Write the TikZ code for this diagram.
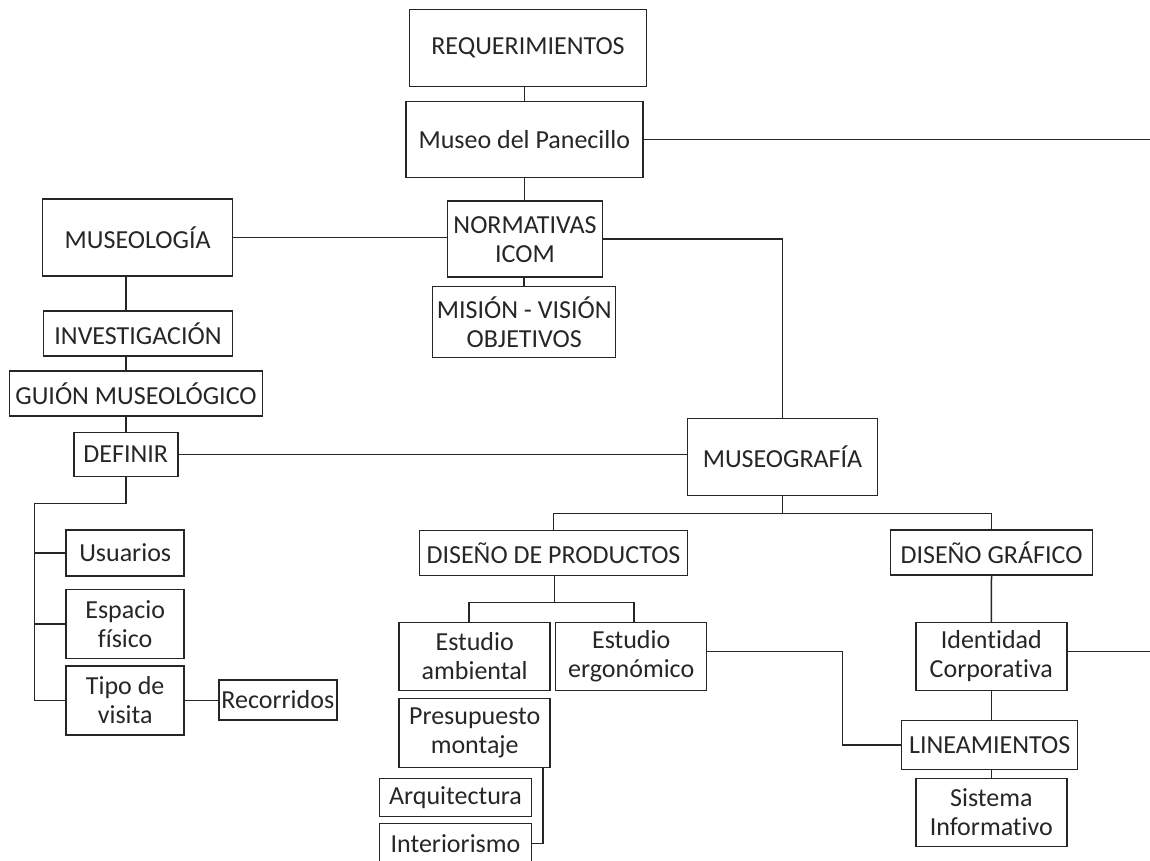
\documentclass[tikz,border=0pt]{standalone}
\usepackage{fontspec}
\setmainfont{Carlito}[Ligatures=NoCommon]
\usetikzlibrary{positioning}

\begin{document}
\begin{tikzpicture}[
            x=1pt, y=-1pt,
            line width=1.5pt, color=black!85,
            every node/.style={draw, inner sep=0pt, align=center,
                font=\fontsize{26}{29}\selectfont},
            box/.style={minimum width=#1},
            ]
            \useasboundingbox (0,0) rectangle (1150,860);
            \clip (0,0) rectangle (1150,860);

            % centre column
            \node[box=237, minimum height=77] (req) at (528,48) {REQUERIMIENTOS};
            \node[box=237, minimum height=76] (museo) at (524.3,139.7) {Museo del Panecillo};
            \node[box=155, minimum height=76] (norm) at (525,239.2) {NORMATIVAS\\ICOM};
            \node[box=183, minimum height=71] (mision) at (524.2,322) {MISIÓN - VISIÓN\\OBJETIVOS};

            % museologia
            \node[box=190, minimum height=77] (museologia) at (137.7,237.5) {MUSEOLOGÍA};
            \node[box=189, minimum height=45] (investig) at (138,333.3) {INVESTIGACIÓN};
            \node[box=253, minimum height=45] (guion) at (136,393.3) {GUIÓN MUSEOLÓGICO};
            \node[box=104, minimum height=44] (definir) at (125.8,454.5) {DEFINIR};
            \node[box=118, minimum height=46] (usuarios) at (125.2,552.8) {Usuarios};
            \node[box=118, minimum height=69] (espacio) at (125.2,623.8) {Espacio\\físico};
            \node[box=118, minimum height=69] (tipo) at (125.2,700.3) {Tipo de\\visita};
            \node[box=118, minimum height=40] (recorridos) at (277.8,700) {Recorridos};

            % museografia
            \node[box=190, minimum height=77] (museografia) at (782.5,457) {MUSEOGRAFÍA};
            \node[box=268, minimum height=45] (dp) at (553.5,552.8) {DISEÑO DE PRODUCTOS};
            \node[box=202, minimum height=45] (dg) at (991.5,552.5) {DISEÑO GRÁFICO};
            \node[box=151, minimum height=68] (ambiental) at (474.7,656.5) {Estudio\\ambiental};
            \node[box=151, minimum height=68] (ergo) at (631.2,656.5) {Estudio\\ergonómico};
            \node[box=151, minimum height=69] (presup) at (474.7,732.8) {Presupuesto\\montaje};
            \node[box=152, minimum height=38] (arq) at (455.5,797.5) {Arquitectura};
            \node[box=152, minimum height=40] (inter) at (455.5,843.3) {Interiorismo};
            \node[box=151, minimum height=68] (ident) at (991.3,656.5) {Identidad\\Corporativa};
            \node[box=176, minimum height=49] (linea) at (989.7,745) {LINEAMIENTOS};
            \node[box=151, minimum height=68] (sistema) at (991.3,812.5) {Sistema\\Informativo};

            \coordinate (museoEnd) at (1150,139.7);
            \coordinate (identEnd) at (1150,651.5);
            \coordinate (busL) at (34.3,503.3);
            \coordinate (busM) at (782.5,513.3);
            \coordinate (busP) at (554.3,602.7);

            \draw (req.south -| museo) -- (museo.north);
            \draw (museo.south) -- (museo.south |- norm.north);
            \draw (norm.south -| mision) -- (mision.north);
            \draw (museo.east) -- (museoEnd);
            \draw (museologia.east) -- (museologia.east -| norm.west);
            \draw (norm.east) -| (museografia.north);

            \draw (museologia.south -| definir) -- (investig.north -| definir);
            \draw (investig.south -| definir) -- (guion.north -| definir);
            \draw (guion.south -| definir) -- (definir.north);
            \draw (definir.east) -- (definir.east -| museografia.west);
            \draw (definir.south) |- (busL) |- (tipo.west);
            \draw (usuarios.west) -- (usuarios.west -| busL);
            \draw (espacio.west) -- (espacio.west -| busL);
            \draw (tipo.east) -- (tipo.east -| recorridos.west);

            \draw (museografia.south) -- (busM);
            \draw (dp.north) |- (busM) -| (dg.north);
            \draw (dp.south -| busP) -- (busP);
            \draw ([xshift=-5.7pt]ambiental.north) |- (busP) -| ([xshift=3pt]ergo.north);
            \draw ([yshift=5pt]ergo.east) -- ++(135,0) |- (linea.west);
            \draw ([xshift=-8pt]presup.south east) |- (inter.east);

            \draw (dg.south) -- (ident.north);
            \draw (ident.south) -- (ident.south |- linea.north);
            \draw (linea.south -| sistema) -- (sistema.north);
            \draw ([yshift=5pt]ident.east) -- (identEnd);
        \end{tikzpicture}
\end{document}
